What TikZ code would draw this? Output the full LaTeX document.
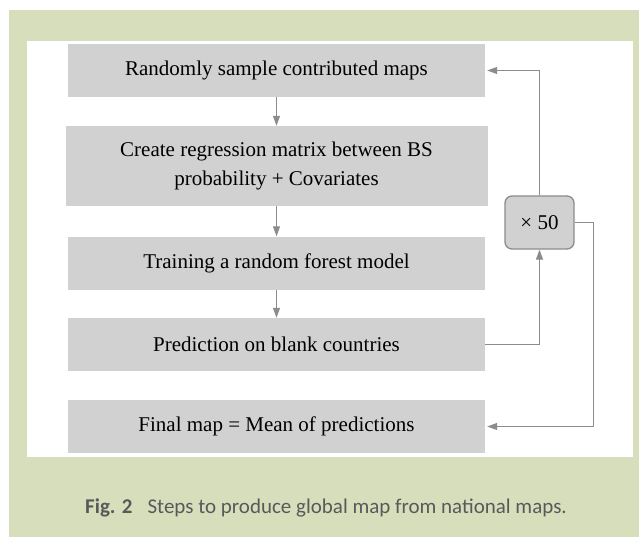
\documentclass[tikz,border=0pt]{standalone}
\usepackage{fontspec}
\setmainfont{Liberation Serif}
\newfontfamily\capfont{Carlito}
\usetikzlibrary{positioning, arrows.meta}
\definecolor{panelgreen}{HTML}{D7DEBC}
\definecolor{boxgray}{HTML}{D1D1D1}
\definecolor{linegray}{HTML}{8C8C8C}
\definecolor{capgray}{HTML}{595959}

\begin{document}
\begin{tikzpicture}[x=1pt, y=-1pt,
  stepbox/.style={fill=boxgray, minimum width=417pt, minimum height=53pt,
    inner sep=0pt, align=center, font=\fontsize{21}{29}\selectfont},
  flow/.style={draw=linegray, line width=1.3pt, -{Triangle[length=10pt,width=7pt]}}]
  %background
  \useasboundingbox (0,0) rectangle (639,537);
  \fill[panelgreen] (9,10) rectangle (639,537);
  \fill[white] (27,41) rectangle (633,457);

  %steps
  \node[stepbox] (sample) at (276.5,70.5) {Randomly sample contributed maps};
  \node[stepbox, minimum width=422pt, minimum height=80pt] (matrix) at (276.5,166)
    {Create regression matrix between BS\\probability + Covariates};
  \node[stepbox] (train) at (276.5,263) {Training a random forest model};
  \node[stepbox] (predict) at (276.5,344.5) {Prediction on blank countries};
  \node[stepbox] (mean) at (276.5,426.5) {Final map = Mean of predictions};

  %loop counter
  \node[stepbox, draw=linegray, line width=1.3pt, rounded corners=7pt,
    minimum width=69pt] (times) at (539.5,222.5) {× 50};

  %arrows
  \draw[flow] (sample) -- (matrix);
  \draw[flow] (matrix) -- (train);
  \draw[flow] (train) -- (predict);
  \draw[flow] (predict.east) -| (times.south);
  \draw[flow] (times.north) |- ([xshift=2pt]sample.east);
  \draw[flow] (times.east) -- ++(19,0) |- ([xshift=2pt]mean.east);

  %caption
  \node[anchor=base west, inner sep=0pt, text=capgray,
    font=\capfont\fontsize{21}{25}\selectfont] (caption) at (85,513)
    {\textbf{Fig. 2}\hspace{15pt}Steps to produce global map from national maps.};
\end{tikzpicture}
\end{document}
